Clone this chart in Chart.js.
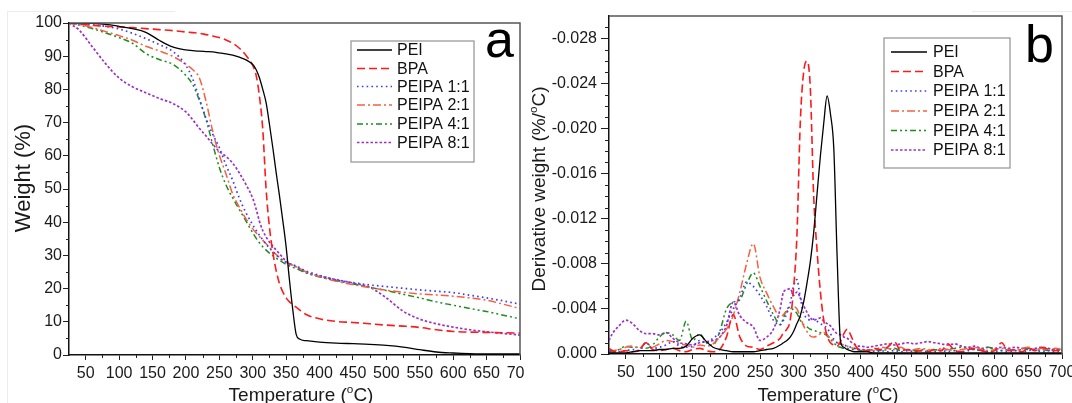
<!DOCTYPE html>
<html>
<head>
<meta charset="utf-8">
<script src="https://cdn.jsdelivr.net/npm/chart.js@4.4.1/dist/chart.umd.min.js"></script>
<style>
    html, body { margin: 0; padding: 0; background: #fff; }
    #wrap { position: relative; width: 1072px; height: 403px; overflow: hidden; background: #fff; }
    #boxA { position: absolute; left: 0; top: 0; width: 524px; height: 403px; }
    #boxB { position: absolute; left: 526px; top: 0; width: 546px; height: 403px; }
    .edge { position: absolute; background: #ececec; }
</style>
</head>
<body>
<div id="wrap">
    <div class="edge" style="left:7px;top:11px;width:1px;height:392px;"></div>
    <div class="edge" style="left:7px;top:11px;width:168px;height:1px;"></div>
    <div class="edge" style="left:972px;top:11px;width:100px;height:1px;"></div>
    <div id="boxA"><canvas id="tgaCanvas"></canvas></div>
    <div id="boxB"><canvas id="dtgCanvas"></canvas></div>
</div>
<script>
// --------------------
// Data: panel a (TGA weight, %)
// --------------------
const tgaTemp = [
    25, 40, 60, 80, 100, 120, 140, 160, 180, 200,
    210, 220, 230, 240, 250, 260, 270, 280, 290, 300,
    305, 310, 315, 320, 325, 330, 335, 340, 345, 350,
    355, 360, 365, 370, 380, 400, 425, 450, 475, 500,
    525, 550, 575, 600, 625, 650, 675, 700
];
const tgaPEI = [
    100, 100, 99.9, 99.6, 99.0, 98.3, 97.2, 94.8, 92.8, 91.9,
    91.7, 91.5, 91.4, 91.3, 91.0, 90.7, 90.3, 89.7, 88.9, 87.5,
    86.0, 83.5, 80.0, 76.0, 69.5, 62.5, 55.0, 48.0, 40.5, 32.5,
    22.5, 13.5, 6.2, 4.8, 4.3, 3.9, 3.6, 3.4, 3.2, 2.9,
    2.4, 1.6, 0.9, 0.6, 0.4, 0.3, 0.3, 0.3
];
const tgaBPA = [
    100, 99.7, 99.3, 99.0, 98.8, 98.6, 98.3, 98.0, 97.7, 97.3,
    97.1, 96.9, 96.5, 96.1, 95.6, 94.9, 93.9, 92.4, 90.2, 87.2,
    84.3, 78.0, 68.0, 50.0, 38.5, 31.0, 25.5, 21.5, 19.0, 17.2,
    16.0, 15.2, 14.4, 13.6, 12.2, 10.9, 10.1, 9.8, 9.4, 9.0,
    8.7, 8.3, 7.6, 7.1, 6.9, 6.8, 6.7, 6.6
];
const tgaPEIPA11 = [
    100, 99.8, 99.4, 99.0, 98.2, 96.9, 95.3, 93.5, 91.5, 87.2,
    83.2, 77.3, 71.3, 66.5, 62.5, 57.2, 52.6, 47.2, 42.8, 39.2,
    37.6, 36.1, 34.7, 33.4, 32.2, 31.1, 30.1, 29.2, 28.5, 27.9,
    27.5, 27.2, 26.8, 26.3, 25.3, 24.0, 22.6, 21.8, 21.1, 20.6,
    20.1, 19.6, 19.2, 18.8, 18.0, 17.2, 16.3, 15.3
];
const tgaPEIPA21 = [
    100, 99.6, 98.6, 97.4, 96.2, 94.8, 93.0, 91.6, 90.0, 87.6,
    86.0, 83.5, 76.5, 67.5, 60.2, 54.5, 48.5, 44.5, 41.0, 38.0,
    36.8, 35.7, 34.6, 33.5, 32.4, 31.3, 30.3, 29.4, 28.6, 27.9,
    27.4, 27.0, 26.6, 26.1, 25.0, 23.6, 22.2, 21.2, 20.3, 19.5,
    18.9, 18.4, 18.1, 17.7, 17.2, 16.5, 15.3, 14.0
];
const tgaPEIPA41 = [
    100, 99.4, 98.3, 97.0, 95.6, 93.9, 90.8, 89.0, 87.6, 84.2,
    81.5, 76.8, 71.0, 63.5, 56.5, 51.2, 47.3, 43.8, 40.3, 36.8,
    35.2, 33.8, 32.6, 31.6, 30.7, 29.9, 29.2, 28.5, 27.9, 27.3,
    26.8, 26.4, 26.0, 25.6, 24.7, 23.5, 22.4, 21.4, 20.4, 19.4,
    18.3, 17.2, 16.0, 15.0, 14.0, 13.1, 12.0, 10.9
];
const tgaPEIPA81 = [
    100, 97.9, 92.8, 87.7, 83.4, 80.8, 79.0, 77.3, 75.8, 73.2,
    70.9, 68.3, 66.0, 63.5, 61.3, 59.8, 57.8, 54.8, 51.3, 47.2,
    44.0, 40.3, 37.5, 35.6, 34.0, 32.8, 31.6, 30.5, 29.3, 28.3,
    27.6, 27.1, 26.6, 26.0, 24.9, 23.8, 22.7, 21.7, 20.4, 17.2,
    13.2, 10.8, 9.4, 8.4, 7.6, 7.0, 6.5, 6.0
];

// --------------------
// Data: panel b (derivative weight, %/°C)
// --------------------
const dtgTemp = [
    25, 30, 40, 50, 60, 70, 80, 90, 100, 110,
    120, 130, 140, 150, 160, 170, 180, 190, 200, 210,
    220, 230, 240, 250, 260, 270, 280, 285, 290, 295,
    300, 305, 310, 315, 320, 325, 330, 335, 340, 345,
    350, 355, 360, 365, 370, 375, 380, 385, 390, 395,
    400, 410, 420, 430, 440, 450, 460, 470, 480, 490,
    500, 510, 520, 530, 540, 550, 560, 570, 580, 590,
    600, 610, 620, 630, 640, 650, 660, 670, 680, 690,
    700
];
const dtgPEI = [
    -0.0001, -0.0001, -0.0001, -0.0001, -0.0002, -0.0003, -0.0003, -0.0003, -0.0004, -0.0004,
    -0.0005, -0.0005, -0.0007, -0.0014, -0.0017, -0.0011, -0.0006, -0.0004, -0.0003, -0.0002,
    -0.0002, -0.0002, -0.0002, -0.0003, -0.0004, -0.0005, -0.0008, -0.0010, -0.0012, -0.0015,
    -0.0020, -0.0027, -0.0034, -0.0046, -0.0063, -0.0082, -0.0108, -0.0142, -0.0176, -0.0205,
    -0.0229, -0.0213, -0.0182, -0.0085, -0.0011, -0.0006, -0.0004, -0.0003, -0.0002, -0.0002,
    -0.0002, -0.0002, -0.0001, -0.0001, -0.0001, -0.0001, -0.0001, -0.0001, -0.0001, -0.0001,
    -0.0001, -0.0001, -0.0001, -0.0001, -0.0001, -0.0001, -0.0001, -0.0001, -0.0001, -0.0001,
    -0.0001, -0.0001, -0.0001, -0.0001, -0.0001, -0.0001, -0.0001, -0.0001, -0.0001, -0.0001,
    -0.0001
];
const dtgBPA = [
    -0.0005, -0.0003, -0.0002, -0.0003, -0.0002, -0.0003, -0.0010, -0.0004, -0.0003, -0.0004,
    -0.0005, -0.0003, -0.0002, -0.0004, -0.0005, -0.0003, -0.0002, -0.0004, -0.0015, -0.0035,
    -0.0015, -0.0007, -0.0006, -0.0004, -0.0007, -0.0010, -0.0014, -0.0019, -0.0022, -0.0030,
    -0.0058, -0.0105, -0.0205, -0.0250, -0.0260, -0.0236, -0.0140, -0.0092, -0.0055, -0.0030,
    -0.0016, -0.0010, -0.0008, -0.0007, -0.0011, -0.0018, -0.0022, -0.0017, -0.0010, -0.0005,
    -0.0003, -0.0003, -0.0005, -0.0004, -0.0006, -0.0011, -0.0003, -0.0004, -0.0002, -0.0003,
    -0.0002, -0.0004, -0.0003, -0.0009, -0.0003, -0.0002, -0.0004, -0.0005, -0.0003, -0.0002,
    -0.0003, -0.0010, -0.0003, -0.0004, -0.0002, -0.0005, -0.0003, -0.0006, -0.0004, -0.0003,
    -0.0004
];
const dtgPEIPA11 = [
    -0.0003, -0.0002, -0.0002, -0.0003, -0.0004, -0.0003, -0.0010, -0.0005, -0.0006, -0.0008,
    -0.0011, -0.0007, -0.0006, -0.0007, -0.0012, -0.0010, -0.0014, -0.0019, -0.0028, -0.0040,
    -0.0050, -0.0064, -0.0060, -0.0052, -0.0042, -0.0030, -0.0026, -0.0030, -0.0036, -0.0045,
    -0.0060, -0.0066, -0.0050, -0.0036, -0.0032, -0.0030, -0.0031, -0.0029, -0.0027, -0.0025,
    -0.0023, -0.0018, -0.0013, -0.0010, -0.0009, -0.0008, -0.0007, -0.0006, -0.0005, -0.0004,
    -0.0004, -0.0003, -0.0002, -0.0003, -0.0002, -0.0003, -0.0002, -0.0003, -0.0002, -0.0003,
    -0.0002, -0.0002, -0.0003, -0.0002, -0.0003, -0.0002, -0.0003, -0.0004, -0.0003, -0.0002,
    -0.0002, -0.0003, -0.0002, -0.0003, -0.0002, -0.0003, -0.0004, -0.0002, -0.0003, -0.0002,
    -0.0003
];
const dtgPEIPA21 = [
    -0.0004, -0.0003, -0.0004, -0.0006, -0.0007, -0.0005, -0.0010, -0.0006, -0.0009, -0.0012,
    -0.0011, -0.0009, -0.0008, -0.0006, -0.0008, -0.0007, -0.0009, -0.0015, -0.0022, -0.0034,
    -0.0055, -0.0080, -0.0098, -0.0068, -0.0054, -0.0042, -0.0033, -0.0035, -0.0038, -0.0040,
    -0.0042, -0.0040, -0.0033, -0.0025, -0.0020, -0.0016, -0.0015, -0.0016, -0.0018, -0.0019,
    -0.0017, -0.0014, -0.0012, -0.0010, -0.0009, -0.0008, -0.0007, -0.0006, -0.0005, -0.0005,
    -0.0004, -0.0004, -0.0003, -0.0006, -0.0005, -0.0004, -0.0006, -0.0003, -0.0004, -0.0005,
    -0.0004, -0.0003, -0.0005, -0.0004, -0.0003, -0.0004, -0.0005, -0.0006, -0.0004, -0.0003,
    -0.0004, -0.0005, -0.0004, -0.0003, -0.0005, -0.0006, -0.0004, -0.0005, -0.0003, -0.0005,
    -0.0004
];
const dtgPEIPA41 = [
    -0.0002, -0.0002, -0.0004, -0.0007, -0.0006, -0.0006, -0.0005, -0.0008, -0.0015, -0.0019,
    -0.0017, -0.0012, -0.0029, -0.0012, -0.0018, -0.0010, -0.0008, -0.0020, -0.0040, -0.0046,
    -0.0048, -0.0062, -0.0072, -0.0060, -0.0047, -0.0035, -0.0026, -0.0032, -0.0040, -0.0041,
    -0.0039, -0.0036, -0.0030, -0.0026, -0.0024, -0.0022, -0.0021, -0.0020, -0.0019, -0.0018,
    -0.0016, -0.0013, -0.0010, -0.0007, -0.0006, -0.0005, -0.0005, -0.0004, -0.0004, -0.0004,
    -0.0003, -0.0003, -0.0004, -0.0003, -0.0004, -0.0005, -0.0003, -0.0004, -0.0003, -0.0004,
    -0.0003, -0.0004, -0.0003, -0.0004, -0.0005, -0.0006, -0.0005, -0.0004, -0.0003, -0.0006,
    -0.0004, -0.0003, -0.0004, -0.0003, -0.0004, -0.0005, -0.0003, -0.0004, -0.0003, -0.0004,
    -0.0003
];
const dtgPEIPA81 = [
    -0.0012, -0.0018, -0.0025, -0.0030, -0.0027, -0.0021, -0.0018, -0.0018, -0.0017, -0.0019,
    -0.0014, -0.0010, -0.0009, -0.0008, -0.0010, -0.0011, -0.0012, -0.0015, -0.0025, -0.0046,
    -0.0034, -0.0028, -0.0024, -0.0012, -0.0015, -0.0022, -0.0040, -0.0055, -0.0057, -0.0058,
    -0.0052, -0.0055, -0.0050, -0.0043, -0.0037, -0.0032, -0.0030, -0.0031, -0.0032, -0.0029,
    -0.0027, -0.0025, -0.0021, -0.0018, -0.0017, -0.0015, -0.0014, -0.0011, -0.0009, -0.0007,
    -0.0007, -0.0006, -0.0007, -0.0008, -0.0009, -0.0008, -0.0009, -0.0010, -0.0009, -0.0010,
    -0.0011, -0.0010, -0.0009, -0.0008, -0.0009, -0.0007, -0.0006, -0.0007, -0.0005, -0.0006,
    -0.0005, -0.0006, -0.0005, -0.0006, -0.0005, -0.0004, -0.0005, -0.0006, -0.0005, -0.0004,
    -0.0004
];

// --------------------
// Labels and ticks
// --------------------
const seriesNames = ['PEI', 'BPA', 'PEIPA 1:1', 'PEIPA 2:1', 'PEIPA 4:1', 'PEIPA 8:1'];
const tempTicks = [50, 100, 150, 200, 250, 300, 350, 400, 450, 500, 550, 600, 650, 700];
const tempMinorTicks = [75, 125, 175, 225, 275, 325, 375, 425, 475, 525, 575, 625, 675];
const weightMinorTicks = [5, 15, 25, 35, 45, 55, 65, 75, 85, 95];
const dtgTicks = [0, -0.004, -0.008, -0.012, -0.016, -0.020, -0.024, -0.028];
const dtgMinorTicks = [-0.001, -0.002, -0.003, -0.005, -0.006, -0.007, -0.009, -0.010, -0.011,
    -0.013, -0.014, -0.015, -0.017, -0.018, -0.019, -0.021, -0.022, -0.023,
    -0.025, -0.026, -0.027, -0.029];
const tempTitle = [{ t: 'Temperature (' }, { t: 'o', sup: true }, { t: 'C)' }];
const weightTitle = [{ t: 'Weight (%)' }];
const dtgTitle = [{ t: 'Derivative weight (%/' }, { t: 'o', sup: true }, { t: 'C)' }];

// --------------------
// Styles
// --------------------
const FONT = '"Liberation Sans", Arial, sans-serif';
const seriesStyles = [
    { color: '#000000', dash: [], width: 1.3 },
    { color: '#ff1a1a', dash: [8, 4], width: 1.6 },
    { color: '#3b3bff', dash: [1.6, 3.2], width: 1.7 },
    { color: '#f5603f', dash: [8, 3, 2, 3], width: 1.5 },
    { color: '#1e8c1e', dash: [6, 3, 2, 3, 2, 3], width: 1.5 },
    { color: '#9a32c8', dash: [2.5, 2], width: 1.7 }
];

Chart.defaults.font.family = FONT;
Chart.defaults.color = '#1a1a1a';

function makeDatasets(xs, seriesList) {
    return seriesList.map((ys, i) => ({
        label: seriesNames[i],
        data: xs.map((x, k) => ({ x: x, y: ys[k] })),
        borderColor: seriesStyles[i].color,
        borderDash: seriesStyles[i].dash,
        borderWidth: seriesStyles[i].width,
        pointRadius: 0,
        fill: false,
        cubicInterpolationMode: 'monotone'
    }));
}

// --------------------
// Rich text helper (superscript)
// --------------------
function drawRich(ctx, parts, size, cx, y) {
    const widths = parts.map(p => {
        ctx.font = (p.sup ? size * 0.62 : size) + 'px ' + FONT;
        return ctx.measureText(p.t).width;
    });
    const total = widths.reduce((a, b) => a + b, 0);
    let x = cx - total / 2;
    parts.forEach((p, i) => {
        ctx.font = (p.sup ? size * 0.62 : size) + 'px ' + FONT;
        ctx.fillText(p.t, x, p.sup ? y - size * 0.42 : y);
        x += widths[i];
    });
}

// --------------------
// Frame, minor ticks, legend, titles
// --------------------
const panelDecor = {
    id: 'panelDecor',
    afterDraw(chart, args, o) {
        const ctx = chart.ctx;
        const { left, right, top, bottom } = chart.chartArea;
        const xs = chart.scales.x;
        const ys = chart.scales.y;
        ctx.save();

        ctx.strokeStyle = '#555';
        ctx.lineWidth = 1.5;
        ctx.beginPath();
        ctx.moveTo(left, top);
        ctx.lineTo(right, top);
        ctx.lineTo(right, bottom);
        ctx.stroke();

        ctx.strokeStyle = '#222';
        ctx.lineWidth = 1;
        o.xMinor.forEach(v => {
            const px = Math.round(xs.getPixelForValue(v)) + 0.5;
            ctx.beginPath();
            ctx.moveTo(px, bottom);
            ctx.lineTo(px, bottom + o.xMinorLen);
            ctx.stroke();
        });
        o.yMinor.forEach(v => {
            const py = Math.round(ys.getPixelForValue(v)) + 0.5;
            ctx.beginPath();
            ctx.moveTo(left, py);
            ctx.lineTo(left - o.yMinorLen, py);
            ctx.stroke();
        });

        // legend
        const lg = o.legend;
        ctx.strokeStyle = '#9a9a9a';
        ctx.lineWidth = 1.3;
        ctx.strokeRect(lg.x, lg.y, lg.w, lg.h);
        chart.data.datasets.forEach((ds, i) => {
            const y = lg.rows[i];
            ctx.strokeStyle = ds.borderColor;
            ctx.lineWidth = ds.borderWidth;
            ctx.setLineDash(ds.borderDash);
            ctx.beginPath();
            ctx.moveTo(lg.x0, y);
            ctx.lineTo(lg.x1, y);
            ctx.stroke();
            ctx.setLineDash([]);
            ctx.fillStyle = '#111';
            ctx.font = '16px ' + FONT;
            ctx.textAlign = 'left';
            ctx.textBaseline = 'middle';
            ctx.fillText(ds.label, lg.tx, y + 1);
        });

        // panel letter
        ctx.fillStyle = '#000';
        ctx.textAlign = 'left';
        ctx.textBaseline = 'alphabetic';
        ctx.font = '52px ' + FONT;
        ctx.fillText(o.letter.text, o.letter.x, o.letter.y);

        // axis titles
        ctx.fillStyle = '#1a1a1a';
        drawRich(ctx, o.xTitle.parts, o.xTitle.size, o.xTitle.cx, o.xTitle.y);
        ctx.translate(o.yTitle.x, o.yTitle.cy);
        ctx.rotate(-Math.PI / 2);
        drawRich(ctx, o.yTitle.parts, o.yTitle.size, 0, 0);

        ctx.restore();
    }
};

// --------------------
// Panel a
// --------------------
new Chart(document.getElementById('tgaCanvas').getContext('2d'), {
    type: 'line',
    data: {
        datasets: makeDatasets(tgaTemp, [tgaPEI, tgaBPA, tgaPEIPA11, tgaPEIPA21, tgaPEIPA41, tgaPEIPA81])
    },
    plugins: [panelDecor],
    options: {
        responsive: true,
        maintainAspectRatio: false,
        animation: false,
        events: [],
        layout: { padding: { top: 23, right: 4, left: 0, bottom: 0 } },
        scales: {
            x: {
                type: 'linear',
                min: 25,
                max: 700,
                afterBuildTicks: s => { s.ticks = tempTicks.map(v => ({ value: v })); },
                afterFit: s => { s.height = 48; s.paddingLeft = 0; s.paddingRight = 0; },
                ticks: { font: { size: 16 }, padding: 4, maxRotation: 0, autoSkip: false, color: '#1a1a1a' },
                grid: { drawOnChartArea: false, drawTicks: true, tickLength: 5, tickColor: '#222' },
                border: { display: true, color: '#111', width: 1.5 }
            },
            y: {
                min: 0,
                max: 100,
                afterFit: s => { s.width = 69; },
                ticks: { stepSize: 10, font: { size: 16 }, padding: 1, color: '#1a1a1a' },
                grid: { drawOnChartArea: false, drawTicks: true, tickLength: 6, tickColor: '#222' },
                border: { display: true, color: '#111', width: 1.5 }
            }
        },
        plugins: {
            legend: { display: false },
            tooltip: { enabled: false },
            panelDecor: {
                xMinor: tempMinorTicks, xMinorLen: 3,
                yMinor: weightMinorTicks, yMinorLen: 3,
                legend: { x: 351, y: 41, w: 123, h: 121, rows: [50, 68.5, 86.5, 105, 124, 142.5], x0: 357, x1: 392, tx: 397 },
                letter: { text: 'a', x: 485, y: 57 },
                xTitle: { parts: tempTitle, size: 19, cx: 301, y: 401 },
                yTitle: { parts: weightTitle, size: 22, x: 30, cy: 178 }
            }
        }
    }
});

// --------------------
// Panel b
// --------------------
new Chart(document.getElementById('dtgCanvas').getContext('2d'), {
    type: 'line',
    data: {
        datasets: makeDatasets(dtgTemp, [dtgPEI, dtgBPA, dtgPEIPA11, dtgPEIPA21, dtgPEIPA41, dtgPEIPA81])
    },
    plugins: [panelDecor],
    options: {
        responsive: true,
        maintainAspectRatio: false,
        animation: false,
        events: [],
        layout: { padding: { top: 16, right: 10, left: 0, bottom: 0 } },
        scales: {
            x: {
                type: 'linear',
                min: 25,
                max: 700,
                afterBuildTicks: s => { s.ticks = tempTicks.map(v => ({ value: v })); },
                afterFit: s => { s.height = 49; s.paddingLeft = 0; s.paddingRight = 0; },
                ticks: { font: { size: 16 }, padding: 4, maxRotation: 0, autoSkip: false, color: '#1a1a1a' },
                grid: { drawOnChartArea: false, drawTicks: true, tickLength: 5, tickColor: '#222' },
                border: { display: true, color: '#111', width: 1.5 }
            },
            y: {
                min: -0.030,
                max: 0,
                reverse: true,
                afterBuildTicks: s => { s.ticks = dtgTicks.map(v => ({ value: v })); },
                afterFit: s => { s.width = 83; s.paddingTop = 0; s.paddingBottom = 0; },
                ticks: { font: { size: 16 }, padding: 4, color: '#1a1a1a', callback: v => v.toFixed(3) },
                grid: { drawOnChartArea: false, drawTicks: true, tickLength: 8, tickColor: '#222' },
                border: { display: true, color: '#111', width: 1.5 }
            }
        },
        plugins: {
            legend: { display: false },
            tooltip: { enabled: false },
            panelDecor: {
                xMinor: tempMinorTicks, xMinorLen: 3,
                yMinor: dtgMinorTicks, yMinorLen: 4,
                legend: { x: 358, y: 38, w: 126, h: 130, rows: [52, 71.5, 91, 111, 130.5, 150], x0: 365, x1: 401, tx: 407 },
                letter: { text: 'b', x: 499, y: 62 },
                xTitle: { parts: tempTitle, size: 18.5, cx: 302, y: 401 },
                yTitle: { parts: dtgTitle, size: 19, x: 19, cy: 189 }
            }
        }
    }
});
</script>
</body>
</html>
